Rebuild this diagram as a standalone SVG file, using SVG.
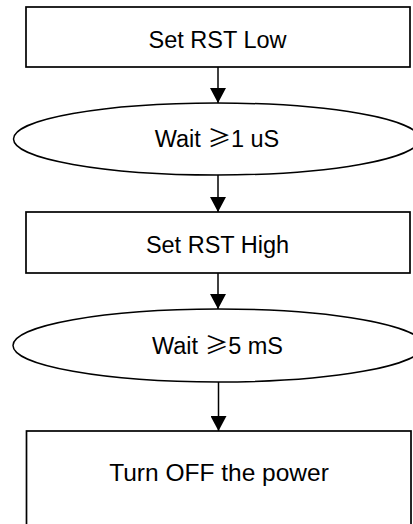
<svg xmlns="http://www.w3.org/2000/svg" width="413" height="524" viewBox="0 0 413 524">
<style>
.box{fill:#fff;stroke:#000;stroke-width:1.7}
.oval{fill:#fff;stroke:#000;stroke-width:1.5}
.lbl{font-family:"Liberation Sans",Arial,sans-serif;font-size:23.5px;fill:#000;text-anchor:middle}
.big{font-size:24.5px}
.sym{font-family:"Noto Sans CJK SC","DejaVu Sans",sans-serif}
.conn{stroke:#000;stroke-width:1.5;fill:none;marker-end:url(#arr)}
</style>
<defs>
<marker id="arr" markerUnits="userSpaceOnUse" markerWidth="16" markerHeight="16" viewBox="0 0 16 16" refX="15" refY="8" orient="auto">
<path d="M0,0 L15,8 L0,16 Z" fill="#000"/>
</marker>
</defs>
<rect width="413" height="524" fill="#fff"/>
<g id="connectors">
<line class="conn" x1="218" y1="67" x2="218" y2="103"/>
<line class="conn" x1="218" y1="175" x2="218" y2="212"/>
<line class="conn" x1="218" y1="273" x2="218" y2="309"/>
<line class="conn" x1="218.5" y1="382" x2="218.5" y2="431"/>
</g>
<g id="n1">
<rect class="box" x="26" y="7" width="384" height="60"/>
<text class="lbl" x="217.5" y="48">Set RST Low</text>
</g>
<g id="n2">
<ellipse class="oval" cx="216.5" cy="139" rx="203" ry="36"/>
<text class="lbl" x="217" y="147">Wait <tspan class="sym">≥</tspan>1 uS</text>
</g>
<g id="n3">
<rect class="box" x="26" y="212" width="384" height="61"/>
<text class="lbl" x="217.5" y="253">Set RST High</text>
</g>
<g id="n4">
<ellipse class="oval" cx="218" cy="345.5" rx="205" ry="36.5"/>
<text class="lbl" x="217.5" y="354">Wait <tspan class="sym">≥</tspan>5 mS</text>
</g>
<g id="n5">
<rect class="box" x="26.5" y="431" width="384.5" height="100"/>
<text class="lbl big" x="219" y="480.5">Turn OFF the power</text>
</g>
</svg>
